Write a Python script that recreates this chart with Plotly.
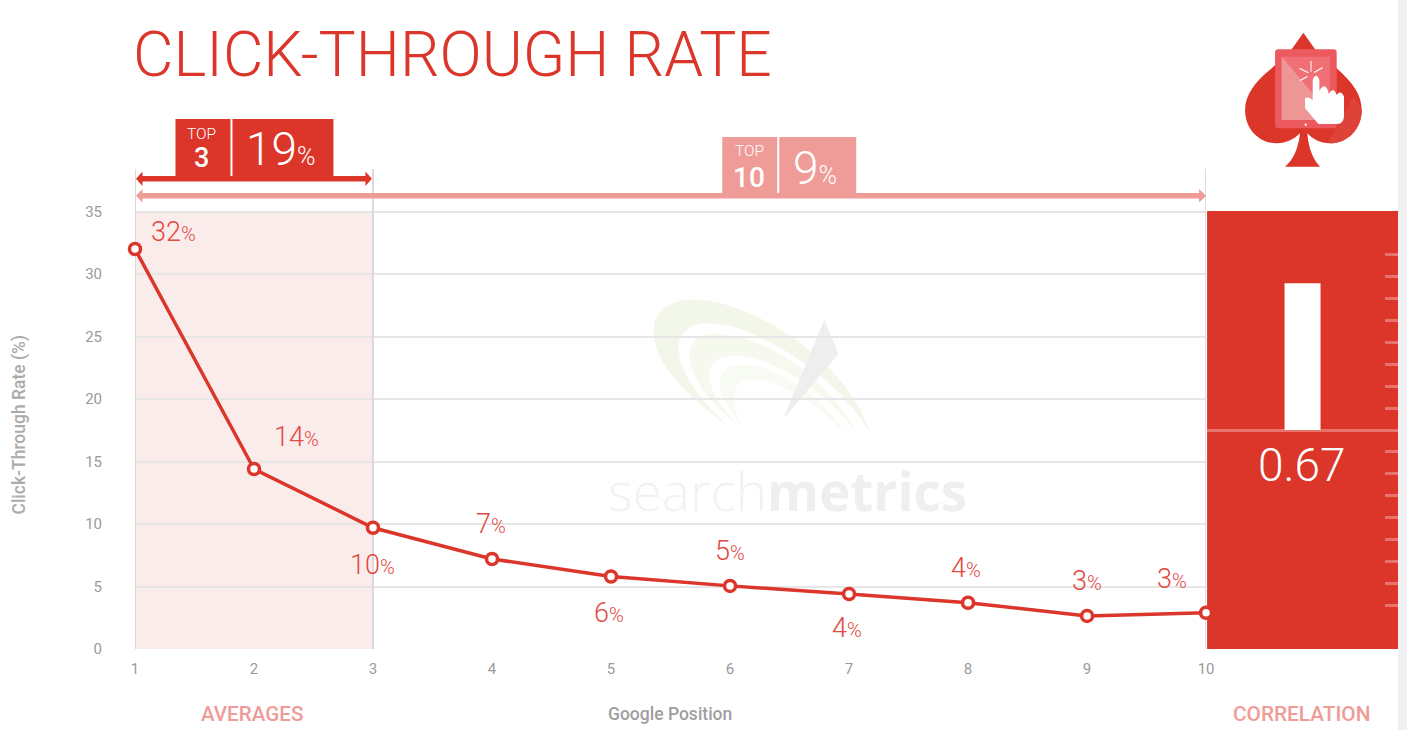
import re
import plotly.graph_objects as go

# ---- data ----
positions = [1, 2, 3, 4, 5, 6, 7, 8, 9, 10]
ctr_values = [32.0, 14.4, 9.7, 7.2, 5.8, 5.05, 4.4, 3.7, 2.65, 2.9]
ctr_labels = ["32", "14", "10", "7", "6", "5", "4", "4", "3", "3"]
y_ticks = [0, 5, 10, 15, 20, 25, 30, 35]
correlation_name = ["Correlation"]
correlation_value = [0.67]
corr_ticks = [-0.8, -0.7, -0.6, -0.5, -0.4, -0.3, -0.2, -0.1, 0.1, 0.2, 0.3, 0.4, 0.5, 0.6, 0.7, 0.8]
guide_positions = [1, 3, 10]

# ---- style / layout ----
label_shifts = [(38, 17), (42, 32), (-1, -37), (-1, 35), (-2, -36), (0, 35), (-2, -34), (-2, 35), (0, 35), (-34, 34)]
RED = "#dc352a"
PINK = "#ef9b97"
L, R, T, B = 134.5, 1398.0, 169.0, 649.0
FONT = "Roboto"


def xp(px):
    return (px - L) / (R - L)


def yp(py):
    return (B - py) / (B - T)


def path(s, ox=0.0, oy=0.0, k=1.0):
    """Convert a path written in picture pixels to paper fractions."""
    out = []
    for tok in re.findall(r"[MLQCZ]|-?[\d.]+,-?[\d.]+", s):
        if "," in tok:
            a, b = tok.split(",")
            out.append(f"{xp(ox + float(a) / k):.5f},{yp(oy + float(b) / k):.5f}")
        else:
            out.append(tok)
    return " ".join(out)


shapes = []


def add_path(s, color, layer="above", ox=0.0, oy=0.0, k=1.0):
    shapes.append(dict(type="path", xref="paper", yref="paper", path=path(s, ox, oy, k),
                       fillcolor=color, line=dict(width=0), layer=layer))


def add_rect(x0, y0, x1, y1, color, layer="above"):
    shapes.append(dict(type="rect", xref="paper", yref="paper", x0=xp(x0), x1=xp(x1), y0=yp(y0), y1=yp(y1),
                       fillcolor=color, line=dict(width=0), layer=layer))


# page edge stripe
add_rect(1398, 0, 1407, 730, "#f0f0f3", "below")

# correlation panel
shapes.append(dict(type="rect", xref="x domain", yref="y domain", x0=0, x1=1, y0=0, y1=1,
                   fillcolor=RED, line=dict(width=0), layer="below"))

# top-3 shaded band (main axes)
shapes.append(dict(type="rect", xref="x2", yref="y2", x0=1, x1=3, y0=0, y1=35,
                   fillcolor="#fbecec", line=dict(width=0), layer="below"))

# watermark (zoom-crop coordinates)
wm = dict(ox=600, oy=290, k=3)
add_path("M390,415 C250,310 150,210 160,110 C170,30 270,10 380,45 C560,100 760,260 810,430 "
         "C740,310 600,190 440,125 C340,85 250,90 236,160 C225,240 310,340 390,415 Z", "#f3f7e9", "below", **wm)
add_path("M425,415 C330,340 265,260 268,190 C275,125 345,120 430,145 C570,185 710,310 770,430 "
         "C690,320 570,240 470,208 C390,185 330,200 327,255 C327,310 380,370 425,415 Z", "#f5f9ee", "below", **wm)
add_path("M430,415 C385,360 355,310 358,270 C365,225 420,215 480,232 C580,260 680,340 735,430 "
         "C660,350 560,285 480,270 C430,262 400,280 402,325 C404,360 415,390 430,415 Z", "#f8fbf3", "below", **wm)
add_path("M672,90 L715,192 L548,388 Z", "#eeeeee", "below", **wm)

# arrows
add_rect(140, 176, 367, 181.5, RED)
add_path("M135.5,178.7 L142,171.5 L142,186 Z", RED)
add_path("M371.5,178.7 L365,171.5 L365,186 Z", RED)
add_rect(140, 193, 1201, 198.5, PINK)
add_path("M135.5,195.7 L142,189 L142,202.5 Z", PINK)
add_path("M1206,195.7 L1199,189 L1199,202.5 Z", PINK)

# summary boxes
add_rect(175, 119, 230, 176, RED)
add_rect(232, 119, 333, 176, RED)
add_rect(722, 137, 777, 193, PINK)
add_rect(779, 137, 856, 193, PINK)

# spade icon (zoom-crop coordinates)
ic = dict(ox=1190, oy=20, k=3)
add_path("M340,38 L375,88 L440,145 C490,190 515,225 515,270 C515,330 470,370 420,370 C390,370 365,355 352,340 "
         "C355,385 370,420 390,440 L285,440 C310,420 325,385 330,340 C310,360 285,370 260,370 "
         "C210,370 165,330 165,270 C165,225 195,185 245,145 L305,88 Z", RED, **ic)
add_path("M490,232 C505,250 515,262 515,270 C515,330 470,370 420,370 L415,362 Z", "#de4238", **ic)
add_path("M265,88 L430,88 Q440,88 440,98 L440,315 Q440,325 430,325 L265,325 Q255,325 255,315 L255,98 Q255,88 265,88 Z",
         "#ec5a60", **ic)
add_path("M275,110 L420,110 L420,300 L275,300 Z", "#f07076", **ic)
add_path("M275,110 L380,235 L400,300 L275,300 Z", "#ee9696", **ic)
add_path("M368,180 Q378,155 388,180 L388,212 Q403,185 414,212 L416,222 Q430,198 440,225 Q452,208 462,230 L462,290 "
         "Q460,312 440,312 L385,312 Q375,300 345,265 L345,235 Q355,228 368,240 Z", "#ffffff", **ic)
for seg in ("M361.5,123 L364.5,123 L364.5,155 L361.5,155 Z", "M329,143 L356,157 L354,160 L327,146 Z",
            "M397,141 L399,144 L373,159 L371,156 Z", "M329,180 L351,168 L353,171 L331,183 Z",
            "M344,311 L350,311 L350,317 L344,317 Z"):
    add_path(seg, "#ffffff", **ic)

ann = []


def text(px, py, s, size, color, weight=400, family=FONT, **kw):
    ann.append(dict(xref="paper", yref="paper", x=xp(px), y=yp(py), text=s, showarrow=False,
                    xanchor="center", yanchor="middle",
                    font=dict(family=family, size=size, color=color, weight=weight), **kw))


# title
ann.append(dict(xref="paper", yref="paper", x=xp(130), y=yp(54), text="CLICK-THROUGH RATE", showarrow=False,
                xanchor="left", yanchor="middle", font=dict(family=FONT, size=62.3, color=RED, weight=300)))
# boxes text
text(201.5, 134, "TOP", 15.5, "#ffffff", 300)
text(201.5, 158, "3", 27, "#ffffff", 500)
text(281, 149, '19<span style="font-size:25px">%</span>', 46, "#ffffff", 300)
text(749, 151, "TOP", 15.5, "#ffffff", 300)
text(749, 177, "10", 28, "#ffffff", 500)
text(815, 168, '9<span style="font-size:25px">%</span>', 46, "#ffffff", 300)
# correlation value
text(1302, 465, "0.67", 46, "#ffffff", 300)
# footers and axis captions
text(252, 714, "AVERAGES", 20.6, PINK, 500)
text(1301, 714, "CORRELATION", 20.8, PINK, 500)
text(670, 714, "Google Position", 17.5, "#9e9e9e", 500)
text(18, 425, "Click-Through Rate (%)", 17.5, "#ababab", 500, textangle=-90)
# watermark wordmark
text(787, 490, '<span style="font-weight:300;color:#f2f2f2">search</span><b>metrics</b>', 53, "#efefef",
     400, "Open Sans")

# point labels through the main axes
for xv, yv, lab, (dx, dy) in zip(positions, ctr_values, ctr_labels, label_shifts):
    ann.append(dict(xref="x2", yref="y2", x=xv, y=yv, xshift=dx, yshift=dy,
                    text=f'{lab}<span style="font-size:20px">%</span>', showarrow=False,
                    xanchor="center", yanchor="middle",
                    font=dict(family=FONT, size=27, color="#e2493f", weight=300)))

fig = go.Figure()
fig.add_trace(go.Bar(x=correlation_name, y=correlation_value, xaxis="x", yaxis="y",
                     marker=dict(color="#ffffff", line=dict(width=0)), showlegend=False, hoverinfo="skip"))
# vertical guides run from the axis to the top of the plot
guide_x, guide_y = [], []
for gx in guide_positions:
    guide_x += [gx, gx, None]
    guide_y += [0, 38.4, None]
fig.add_trace(go.Scatter(x=guide_x, y=guide_y, xaxis="x2", yaxis="y2", mode="lines",
                         line=dict(color="#dadada", width=2), cliponaxis=False,
                         showlegend=False, hoverinfo="skip"))
fig.add_trace(go.Scatter(x=positions, y=ctr_values, xaxis="x2", yaxis="y2", mode="lines+markers",
                         line=dict(color=RED, width=3.5),
                         marker=dict(size=11, color="#ffffff", line=dict(color=RED, width=3.5)),
                         cliponaxis=False, showlegend=False))

fig.update_layout(
    width=1407, height=730, autosize=False,
    margin=dict(l=L, r=1407 - R, t=T, b=730 - B, pad=0, autoexpand=False),
    paper_bgcolor="#ffffff", plot_bgcolor="rgba(0,0,0,0)",
    bargap=1 - 36 / 191,
    shapes=shapes, annotations=ann,
    # correlation panel axes (drawn first, so the main series sits on top)
    xaxis=dict(domain=[xp(1207), 1], range=[-0.5, 0.5], type="category", visible=False, fixedrange=True),
    yaxis=dict(domain=[0, yp(211)], range=[-1, 1], anchor="x", side="right", showgrid=False, showline=False,
               zeroline=True, zerolinecolor="#e8736b", zerolinewidth=2.5, showticklabels=False,
               tickmode="array", tickvals=corr_ticks, ticks="inside", ticklen=13, tickwidth=2.5,
               tickcolor="#e8736b", fixedrange=True),
    # main axes
    xaxis2=dict(domain=[0, xp(1206)], range=[1, 10], anchor="y2", tickmode="array", tickvals=positions,
                showgrid=False, zeroline=False, showline=False, ticks="outside", ticklen=6,
                tickcolor="rgba(0,0,0,0)", tickfont=dict(family=FONT, size=15, color="#9a9a9a"), fixedrange=True),
    yaxis2=dict(domain=[0, 1], range=[0, 38.4], anchor="x2", tickmode="array", tickvals=y_ticks,
                showgrid=True, gridcolor="#e6e6e6", gridwidth=1.5, zeroline=False, showline=False,
                ticks="outside", ticklen=29, tickcolor="rgba(0,0,0,0)",
                tickfont=dict(family=FONT, size=15, color="#9a9a9a"), fixedrange=True),
)

fig.write_html("out.html", config={"displayModeBar": False},
               post_script="document.body.style.margin='0';document.body.style.overflow='hidden';")
